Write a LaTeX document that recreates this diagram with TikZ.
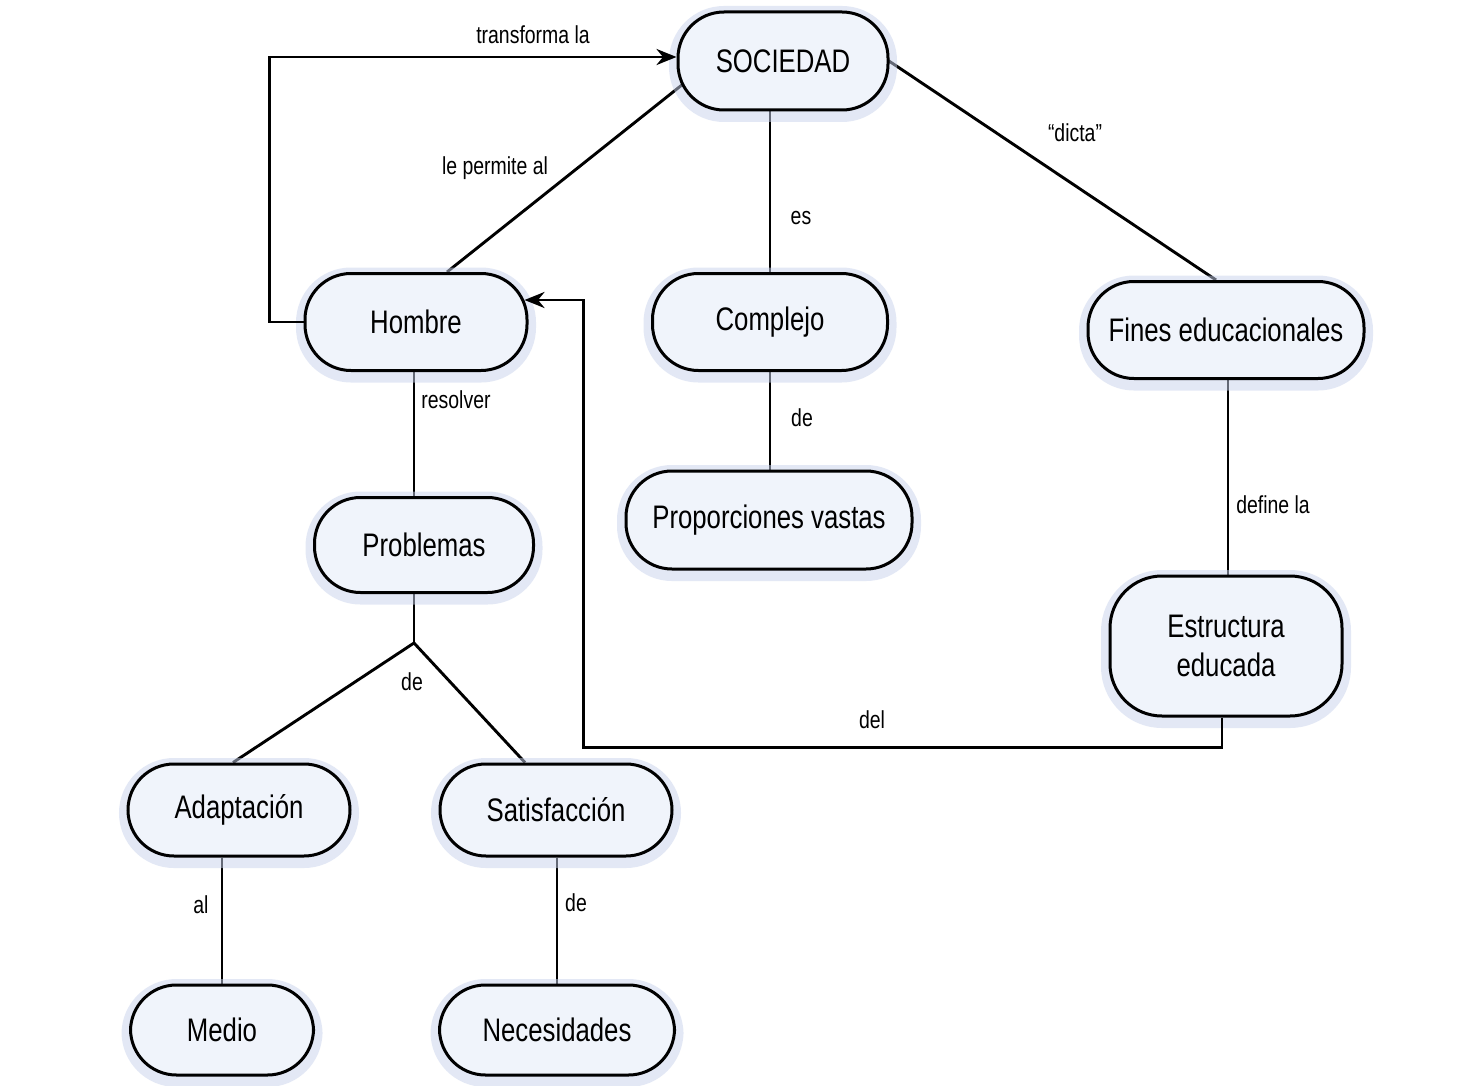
\documentclass[tikz,border=0pt]{standalone}
\usepackage{fontspec}
\setmainfont{Liberation Sans}[FakeStretch=0.79]
\usetikzlibrary{calc,arrows.meta}
\pgfdeclarelayer{background}
\pgfdeclarelayer{paper}
\pgfsetlayers{paper,background,main}
\definecolor{nodefill}{RGB}{240,244,251}
\definecolor{halo}{RGB}{200,211,237}
\tikzset{
  concept/.style={rectangle, rounded corners=23pt, draw=black, line width=1.5pt,
    fill=nodefill, align=center, inner sep=0pt,
    font=\fontsize{16.3}{19.5}\selectfont,
    preaction={draw=halo, line width=9pt, opacity=0.5, transform canvas={yshift=-1.5pt}}},
  lbl/.style={font=\fontsize{12.3}{13}\selectfont, inner sep=1pt},
  conn/.style={draw=black, line width=1.45pt},
  arr/.style={conn, -{Stealth[length=10pt,width=8pt]}}
}
\begin{document}
\begin{tikzpicture}[x=0.5pt,y=-0.5pt]
\begin{pgfonlayer}{paper}
\useasboundingbox[fill=white] (0,0) rectangle (1461,1086);
\end{pgfonlayer}

% concepts
\node[concept, minimum width=105pt, minimum height=49pt] (sociedad) at (783,61) {SOCIEDAD};
\node[concept, minimum width=111pt, minimum height=48.5pt] (hombre) at (416,322) {Hombre};
\node[concept, minimum width=117.5pt, minimum height=48.5pt] (complejo) at (770,322) {Complejo};
\node[concept, minimum width=138pt, minimum height=48.5pt] (fines) at (1226,330) {Fines educacionales};
\node[concept, minimum width=109.5pt, minimum height=47.5pt] (problemas) at (424,545) {Problemas};
\node[concept, minimum width=143pt, minimum height=49pt] (proporciones) at (769,520) {Proporciones vastas};
\node[concept, rounded corners=26pt, minimum width=116pt, minimum height=70pt] (estructura) at (1226,646) {Estructura\\educada};
\node[concept, minimum width=111pt, minimum height=46pt] (adaptacion) at (239,810) {Adaptación};
\node[concept, minimum width=116pt, minimum height=46pt] (satisfaccion) at (556,810) {Satisfacción};
\node[concept, minimum width=91.5pt, minimum height=45pt] (medio) at (222,1030) {Medio};
\node[concept, minimum width=117.5pt, minimum height=45pt] (necesidades) at (557,1030) {Necesidades};

\coordinate (junc) at (414,643);

% connectors
\begin{pgfonlayer}{background}
\draw[conn] ($(sociedad.center)+(-71,0)$) -- ($(hombre.north)+(31,0)$);
\draw[conn] ($(sociedad.south)+(-13,0)$) -- ($(complejo.north)+(0,0)$);
\draw[conn] ($(sociedad.east)+(-5,-3)$) -- ($(fines.north)+(-10,0)$);
\draw[conn] (complejo.south) -- (proporciones.north -| complejo.south);
\draw[conn] ($(hombre.south)+(-2,0)$) -- ($(problemas.north)+(-10,0)$);
\draw[conn] ($(problemas.south)+(-10,0)$) -- (junc);
\draw[conn] (junc) -- ($(adaptacion.north)+(-6,0)$);
\draw[conn] (junc) -- ($(satisfaccion.north)+(-31,0)$);
\draw[conn] ($(fines.south)+(2,0)$) -- ($(estructura.north)+(2,0)$);
\draw[conn] (adaptacion.south -| medio.north) -- (medio.north);
\draw[conn] (satisfaccion.south -| necesidades.north) -- (necesidades.north);
\end{pgfonlayer}
\draw[arr] (hombre.west) -- ++(-34,0) |- ($(sociedad.west)+(0,-4)$);
\draw[arr] ($(estructura.south)+(-4,0)$) -- ++(0,30) -| ($(hombre.east)+(55,-22)$) -- ($(hombre.east)+(-4,-22)$);

% linking labels
\node[lbl] (l1) at (533,35) {transforma la};
\node[lbl] (l2) at (495,168) {le permite al};
\node[lbl] (l3) at (801,218) {es};
\node[lbl] (l4) at (1075,133) {“dicta”};
\node[lbl] (l5) at (456,400) {resolver};
\node[lbl] (l6) at (802,418) {de};
\node[lbl] (l7) at (1273,505) {define la};
\node[lbl] (l8) at (412,682) {de};
\node[lbl] (l9) at (872,720) {del};
\node[lbl] (l10) at (201,905) {al};
\node[lbl] (l11) at (576,903) {de};
\end{tikzpicture}
\end{document}
